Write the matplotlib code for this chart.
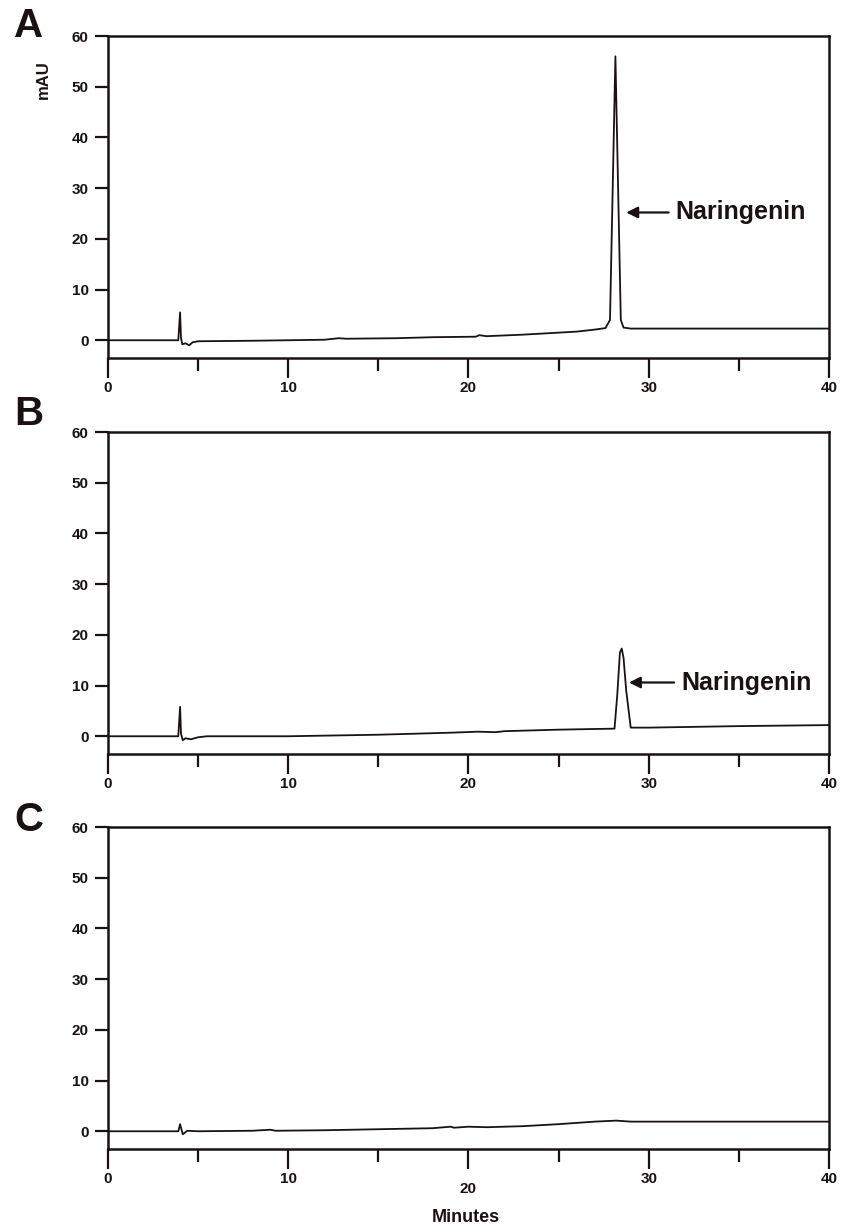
import matplotlib
matplotlib.use('Agg')
import matplotlib.pyplot as plt
from matplotlib.ticker import MultipleLocator

plt.rcParams['font.family'] = ['Liberation Sans', 'DejaVu Sans']
plt.rcParams['font.weight'] = 'bold'

# chromatogram traces (minutes, mAU)
time_a = [0, 3.9, 4.0, 4.05, 4.12, 4.3, 4.5, 4.7, 5.0, 8, 12, 12.8, 13.2, 16, 18, 20.4,
          20.6, 21, 23, 24, 25, 26, 27, 27.6, 27.85, 28.15, 28.45, 28.6, 29, 35, 40]
signal_a = [0, 0, 5.5, 0.5, -0.8, -0.6, -1.0, -0.4, -0.2, -0.1, 0.1, 0.4, 0.3, 0.4, 0.6, 0.7,
            1.0, 0.8, 1.1, 1.3, 1.5, 1.7, 2.1, 2.4, 4.0, 56.0, 4.0, 2.5, 2.3, 2.3, 2.3]

time_b = [0, 3.9, 4.0, 4.05, 4.15, 4.3, 4.6, 5.0, 5.5, 10, 15, 19, 20.5, 21.5, 22, 25,
          28.1, 28.25, 28.4, 28.5, 28.6, 28.75, 29.0, 30, 35, 40]
signal_b = [0, 0, 5.8, 0.5, -0.8, -0.4, -0.6, -0.2, 0, 0, 0.3, 0.7, 0.9, 0.8, 1.0, 1.3,
            1.5, 8.0, 16.5, 17.3, 15.5, 9.0, 1.7, 1.7, 2.0, 2.2]

time_c = [0, 3.9, 4.0, 4.08, 4.15, 4.4, 5, 8, 9, 9.3, 12, 15, 18, 19, 19.2, 20, 21,
          23, 25, 27, 28.2, 29, 35, 40]
signal_c = [0, 0, 1.4, 0.3, -0.6, 0.1, 0, 0.1, 0.3, 0.1, 0.2, 0.4, 0.6, 0.9, 0.7, 0.9, 0.8,
            1.0, 1.4, 1.9, 2.1, 1.9, 1.9, 1.9]

panel_letters = ['A', 'B', 'C']
peak_label = 'Naringenin'
ink = '#1a1212'

fig = plt.figure(figsize=(8.43, 12.26), dpi=100)
bottoms = [0.7080, 0.3850, 0.0628]
letter_y = [1 - 26 / 1226, 1 - 414 / 1226, 1 - 820 / 1226]
traces = [(time_a, signal_a), (time_b, signal_b), (time_c, signal_c)]
labels_at = [(28.75, 31.1, 31.5, 25.2), (28.9, 31.4, 31.8, 10.6), None]

for i, (t, s) in enumerate(traces):
    ax = fig.add_axes([0.1281, bottoms[i], 0.8553, 0.2626])
    ax.plot(t, s, color=ink, lw=1.3)
    ax.set_xlim(0, 40)
    ax.set_ylim(-3.5, 60)
    ax.yaxis.set_major_locator(MultipleLocator(10))
    ax.xaxis.set_major_locator(MultipleLocator(10))
    ax.xaxis.set_minor_locator(MultipleLocator(5))
    for sp in ax.spines.values():
        sp.set_linewidth(1.8)
        sp.set_color(ink)
    ax.tick_params(axis='y', which='major', length=9.4, width=1.6, color=ink,
                   labelsize=11, pad=4.5, labelcolor=ink)
    ax.tick_params(axis='x', which='major', length=14.4, width=1.6, color=ink,
                   labelsize=11, pad=2.5, labelcolor=ink)
    ax.tick_params(axis='x', which='minor', length=9.4, width=1.6, color=ink)
    for lab in ax.get_xticklabels() + ax.get_yticklabels():
        lab.set_fontweight('bold')
    if i == 2:
        ax.set_xticks([0, 10, 20, 30, 40])
        ax.set_xticklabels(['0', '10', '', '30', '40'])
        ax.text(20, -0.123, '20', transform=ax.get_xaxis_transform(), ha='center',
                va='center', fontsize=11, fontweight='bold', color=ink)
    if labels_at[i] is not None:
        head, tail, tx, ty = labels_at[i]
        ax.annotate('', xy=(head, ty), xytext=(tail, ty),
                    arrowprops=dict(arrowstyle='-|>', lw=1.6, color=ink,
                                    mutation_scale=17, shrinkA=0, shrinkB=0))
        ax.text(tx, ty, peak_label, ha='left', va='center', fontsize=18,
                fontweight='bold', color=ink)
    fig.text(29 / 843, letter_y[i], panel_letters[i], ha='center', va='center',
             fontsize=29, fontweight='bold', color=ink)

fig.text(43 / 843, 1 - 80 / 1226, 'mAU', rotation=90, ha='center', va='center',
         fontsize=12, fontweight='bold', color=ink)
fig.text(466 / 843, 1 - 1217 / 1226, 'Minutes', ha='center', va='center',
         fontsize=13, fontweight='bold', color=ink)

fig.savefig('out.png', dpi=100)
